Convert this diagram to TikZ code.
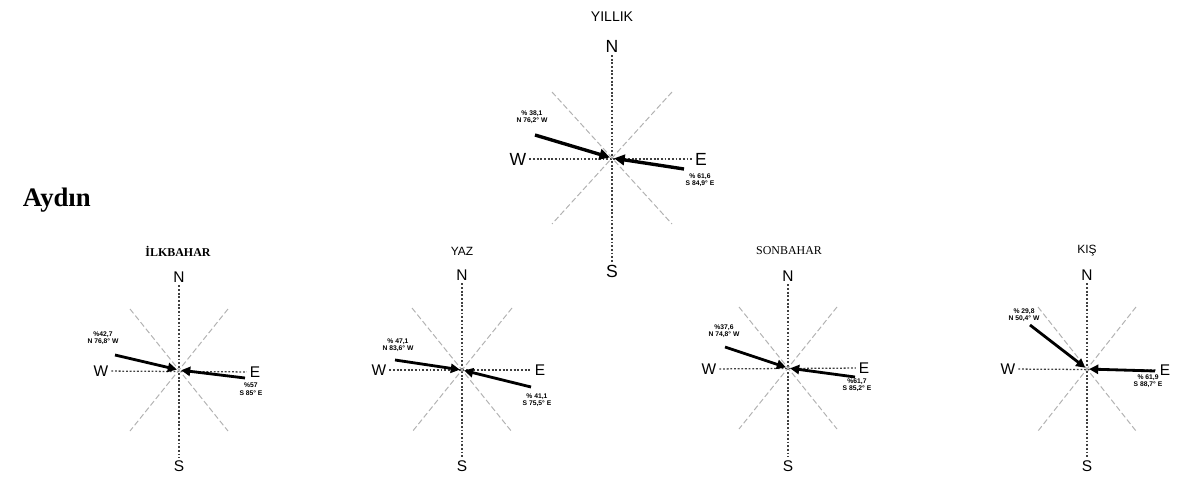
\documentclass[tikz,border=0pt]{standalone}
\usepackage{fontspec}
\setmainfont{Liberation Sans}
\newfontfamily\timesfont{Liberation Serif}
\usepackage{tikz}
\usetikzlibrary{positioning,calc,arrows.meta}

\begin{document}
\begin{tikzpicture}[
    x=0.025cm, y=-0.025cm,
    axis/.style={gray!50!black, line width=0.9pt, dash pattern=on 1.3pt off 1.3pt},
    diag/.style={gray!60, line width=0.7pt, dash pattern=on 4pt off 2pt},
    wind/.style={line width=2pt, shorten >=1.5pt, -{Triangle[length=6.5pt,width=6.5pt]}},
    bigwind/.style={wind, line width=2.4pt, -{Triangle[length=7.5pt,width=7.5pt]}},
    dirlbl/.style={font=\fontsize{11}{11}\selectfont, inner sep=2pt},
    bigdir/.style={font=\fontsize{12.5}{12.5}\selectfont, inner sep=2pt},
    pct/.style={font=\bfseries\fontsize{4.8}{5.4}\selectfont, align=center, inner sep=0pt},
    title/.style={font=\fontsize{8.5}{8.5}\selectfont}
]
    \useasboundingbox (0,0) rectangle (1180,480);

    % Station name
    \node[anchor=west, font=\timesfont\bfseries\fontsize{19}{19}\selectfont] (aydin) at (18,200) {Aydın};

    % YILLIK
    \node[title, font=\fontsize{10}{10}\selectfont] (t0) at (612,17) {YILLIK};
    \coordinate (c0) at (612,158);
    \node[bigdir] (n0) at (612,46) {N};
    \node[bigdir] (s0) at (612,271) {S};
    \node[bigdir] (w0) at (518,159) {W};
    \node[bigdir] (e0) at (701,159) {E};
    \draw[axis] (n0) -- (s0);
    \draw[axis] (w0) -- (e0);
    \draw[diag] ($(c0)+(-60,-66)$) -- ($(c0)+(60,66)$);
    \draw[diag] ($(c0)+(60,-66)$) -- ($(c0)+(-60,66)$);
    \coordinate (a0) at (535,135);
    \coordinate (b0) at (684,169);
    \draw[bigwind] (a0) -- (c0);
    \draw[bigwind] (b0) -- (c0);
    \node[pct] (p0) at (532,117) {\% 38,1\\N 76,2° W};
    \node[pct] (q0) at (700,180) {\% 61,6\\S 84,9° E};

    % ILKBAHAR
    \node[title, font=\timesfont\bfseries\fontsize{8.5}{8.5}\selectfont] (t1) at (178,251) {İLKBAHAR};
    \coordinate (c1) at (179,370);
    \node[dirlbl] (n1) at (179,277) {N};
    \node[dirlbl] (s1) at (179,466) {S};
    \node[dirlbl] (w1) at (101,371) {W};
    \node[dirlbl] (e1) at (255,372) {E};
    \draw[axis] (n1) -- (s1);
    \draw[axis] (w1) -- (e1);
    \draw[diag] ($(c1)+(-49,-61)$) -- ($(c1)+(49,61)$);
    \draw[diag] ($(c1)+(49,-61)$) -- ($(c1)+(-49,61)$);
    \coordinate (a1) at (115,355);
    \coordinate (b1) at (245,378);
    \draw[wind] (a1) -- (c1);
    \draw[wind] (b1) -- (c1);
    \node[pct] (p1) at (103,338) {\%42,7\\N 76,8° W};
    \node[pct] (q1) at (251,389) {\%57\\S 85° E};

    % YAZ
    \node[title] (t2) at (462,251) {YAZ};
    \coordinate (c2) at (462,370);
    \node[dirlbl] (n2) at (462,275) {N};
    \node[dirlbl] (s2) at (462,466) {S};
    \node[dirlbl] (w2) at (379,370) {W};
    \node[dirlbl] (e2) at (540,370) {E};
    \draw[axis] (n2) -- (s2);
    \draw[axis] (w2) -- (e2);
    \draw[diag] ($(c2)+(-50,-62)$) -- ($(c2)+(50,62)$);
    \draw[diag] ($(c2)+(50,-62)$) -- ($(c2)+(-50,62)$);
    \coordinate (a2) at (395,360);
    \coordinate (b2) at (531,387);
    \draw[wind] (a2) -- (c2);
    \draw[wind] (b2) -- (c2);
    \node[pct] (p2) at (398,345) {\% 47,1\\N 83,6° W};
    \node[pct] (q2) at (537,400) {\% 41,1\\S 75,5° E};

    % SONBAHAR
    \node[title, font=\timesfont\fontsize{8.5}{8.5}\selectfont] (t3) at (789,251) {SONBAHAR};
    \coordinate (c3) at (788,368);
    \node[dirlbl] (n3) at (788,276) {N};
    \node[dirlbl] (s3) at (788,466) {S};
    \node[dirlbl] (w3) at (709,369) {W};
    \node[dirlbl] (e3) at (864,368) {E};
    \draw[axis] (n3) -- (s3);
    \draw[axis] (w3) -- (e3);
    \draw[diag] ($(c3)+(-49,-61)$) -- ($(c3)+(49,61)$);
    \draw[diag] ($(c3)+(49,-61)$) -- ($(c3)+(-49,61)$);
    \coordinate (a3) at (725,347);
    \coordinate (b3) at (855,377);
    \draw[wind] (a3) -- (c3);
    \draw[wind] (b3) -- (c3);
    \node[pct] (p3) at (724,331) {\%37,6\\N 74,8° W};
    \node[pct] (q3) at (857,385) {\%61,7\\S 85,2° E};

    % KIS
    \node[title] (t4) at (1087,251) {KIŞ};
    \coordinate (c4) at (1087,369);
    \node[dirlbl] (n4) at (1087,275) {N};
    \node[dirlbl] (s4) at (1087,466) {S};
    \node[dirlbl] (w4) at (1008,369) {W};
    \node[dirlbl] (e4) at (1165,370) {E};
    \draw[axis] (n4) -- (s4);
    \draw[axis] (w4) -- (e4);
    \draw[diag] ($(c4)+(-49,-62)$) -- ($(c4)+(49,62)$);
    \draw[diag] ($(c4)+(49,-62)$) -- ($(c4)+(-49,62)$);
    \coordinate (a4) at (1030,325);
    \coordinate (b4) at (1155,371);
    \draw[wind] (a4) -- (c4);
    \draw[wind] (b4) -- (c4);
    \node[pct] (p4) at (1024,315) {\% 29,8\\N 50,4° W};
    \node[pct] (q4) at (1148,381) {\% 61,9\\S 88,7° E};
\end{tikzpicture}
\end{document}
